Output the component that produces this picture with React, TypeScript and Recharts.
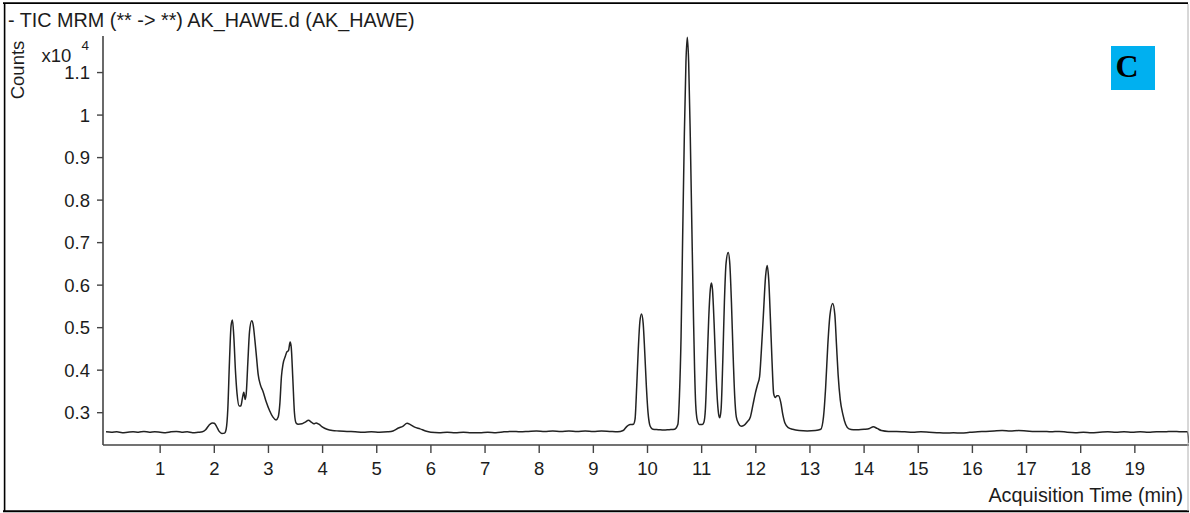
import React from "react";
import { LineChart, Line, XAxis, YAxis } from "recharts";

// Acquisition time (min)
const retentionTimes: number[] = [
  0.0, 0.1, 0.2, 0.3, 0.4, 0.5, 0.6, 0.7, 0.8, 0.9, 1.0, 1.1, 1.2, 1.3, 1.4, 1.5, 1.6, 1.7, 1.78,
  1.84, 1.9, 1.96, 2.0, 2.04, 2.09, 2.14, 2.19,
  2.22, 2.25, 2.28, 2.31, 2.335, 2.36, 2.39, 2.42, 2.46, 2.49, 2.52, 2.545, 2.57, 2.59, 2.62, 2.65, 2.69,
  2.72, 2.75, 2.78, 2.81, 2.85, 2.9, 2.96, 3.02, 3.08, 3.14, 3.18, 3.21, 3.24, 3.27, 3.31, 3.34, 3.37,
  3.4, 3.42, 3.45, 3.48, 3.51, 3.55, 3.62, 3.68, 3.74, 3.79, 3.84, 3.88, 3.93, 4.0, 4.08, 4.18, 4.3,
  4.45, 4.6, 4.75, 4.9, 5.05, 5.2, 5.3, 5.4, 5.48, 5.56, 5.62, 5.7, 5.8, 5.9, 6.0, 6.15, 6.3, 6.45,
  6.6, 6.75, 6.9, 7.05, 7.2, 7.35, 7.5, 7.65, 7.8, 7.95, 8.1, 8.25, 8.4, 8.55, 8.7, 8.85, 9.0, 9.15,
  9.3, 9.45, 9.55, 9.62, 9.68, 9.74,
  9.77, 9.8, 9.83, 9.86, 9.89, 9.92, 9.95, 9.98, 10.01, 10.04, 10.07, 10.1,
  10.2, 10.3, 10.4, 10.5,
  10.56, 10.59, 10.62, 10.65, 10.68, 10.71, 10.735, 10.76, 10.79, 10.82, 10.85, 10.87, 10.89, 10.92,
  10.96, 11.01, 11.04,
  11.07, 11.1, 11.13, 11.16, 11.18, 11.2, 11.23, 11.26, 11.29, 11.32, 11.335,
  11.36, 11.39, 11.42, 11.45, 11.49, 11.52, 11.55, 11.58, 11.61, 11.64, 11.68, 11.73, 11.78,
  11.84, 11.9, 11.95, 11.99, 12.03, 12.07, 12.1, 12.14, 12.18, 12.21, 12.24, 12.27, 12.3, 12.33,
  12.36, 12.39, 12.42, 12.46, 12.5, 12.54, 12.6, 12.68, 12.8, 12.95, 13.1, 13.2,
  13.25, 13.29, 13.33, 13.37, 13.42, 13.46, 13.49, 13.52, 13.56, 13.61, 13.66, 13.72, 13.8, 13.9,
  14.0, 14.1, 14.17, 14.24, 14.32, 14.45, 14.6, 14.75, 14.9, 15.05, 15.2, 15.35, 15.5, 15.65, 15.8,
  15.95, 16.1, 16.25, 16.4, 16.55, 16.7, 16.85, 17.0, 17.15, 17.3, 17.45, 17.6, 17.75, 17.9, 18.05,
  18.2, 18.35, 18.5, 18.65, 18.8, 18.95, 19.1, 19.25, 19.4, 19.55, 19.7, 19.85, 19.97, 20.0,
];

// Counts (x10^4)
const counts: number[] = [
  0.255, 0.254, 0.255, 0.253, 0.254, 0.255, 0.254, 0.256, 0.254, 0.255, 0.254, 0.253, 0.255, 0.256, 0.254, 0.255, 0.253, 0.254, 0.255,
  0.26, 0.27, 0.276, 0.275, 0.268, 0.256, 0.251, 0.252,
  0.262, 0.31, 0.42, 0.505, 0.518, 0.48, 0.4, 0.345, 0.316, 0.316, 0.335, 0.348, 0.331, 0.345, 0.42, 0.49, 0.516,
  0.505, 0.47, 0.43, 0.39, 0.366, 0.35, 0.325, 0.305, 0.29, 0.283, 0.29, 0.32, 0.385, 0.415, 0.432, 0.443, 0.446,
  0.466, 0.455, 0.38, 0.3, 0.276, 0.273, 0.274, 0.278, 0.282, 0.278, 0.274, 0.276, 0.273, 0.266, 0.261, 0.258, 0.257,
  0.256, 0.255, 0.254, 0.255, 0.254, 0.255, 0.257, 0.264, 0.268, 0.275, 0.272, 0.266, 0.262, 0.257, 0.254, 0.253, 0.254, 0.253,
  0.254, 0.253, 0.253, 0.254, 0.253, 0.255, 0.256, 0.255, 0.256, 0.257, 0.256, 0.257, 0.256, 0.257, 0.256, 0.257, 0.256, 0.257,
  0.256, 0.255, 0.258, 0.268, 0.272, 0.273,
  0.285, 0.36, 0.45, 0.515, 0.532, 0.51, 0.44, 0.36, 0.3, 0.272, 0.264, 0.261,
  0.26, 0.259, 0.26, 0.261,
  0.272, 0.34, 0.48, 0.72, 0.95, 1.125, 1.183, 1.125, 0.95, 0.73, 0.52, 0.4, 0.32, 0.282,
  0.272, 0.272, 0.277,
  0.31, 0.41, 0.52, 0.59, 0.605, 0.59, 0.51, 0.41, 0.33, 0.292, 0.288,
  0.31, 0.42, 0.56, 0.65, 0.677, 0.65, 0.56, 0.44, 0.34, 0.29, 0.275, 0.268, 0.27,
  0.278, 0.29, 0.32, 0.345, 0.365, 0.385, 0.44, 0.53, 0.62, 0.646, 0.61, 0.52, 0.42, 0.345,
  0.336, 0.34, 0.34, 0.325, 0.295, 0.275, 0.265, 0.261, 0.258, 0.257, 0.258, 0.261,
  0.29, 0.36, 0.46, 0.53, 0.557, 0.53, 0.46, 0.39, 0.33, 0.295, 0.272, 0.262, 0.26, 0.26,
  0.261, 0.263, 0.267, 0.263, 0.258, 0.256, 0.256, 0.255, 0.254, 0.255, 0.254, 0.253, 0.252, 0.253, 0.252,
  0.254, 0.255, 0.256, 0.257, 0.258, 0.257, 0.258, 0.257, 0.256, 0.256, 0.255, 0.256, 0.254, 0.253, 0.254,
  0.253, 0.254, 0.255, 0.254, 0.255, 0.254, 0.255, 0.254, 0.255, 0.255, 0.256, 0.255, 0.255, 0.228,
];

const xTicks: number[] = [1, 2, 3, 4, 5, 6, 7, 8, 9, 10, 11, 12, 13, 14, 15, 16, 17, 18, 19];
const yTicks: number[] = [0.3, 0.4, 0.5, 0.6, 0.7, 0.8, 0.9, 1, 1.1];
const xDomain: [number, number] = [0, 20];
const yDomain: [number, number] = [0.224, 1.186];

const titleText = "- TIC MRM (** -> **) AK_HAWE.d (AK_HAWE)";
const xAxisTitle = "Acquisition Time (min)";
const yAxisTitle = "Counts";
const panelLetter = "C";

const data = retentionTimes.map((t, i) => ({ t, v: counts[i] }));

const FONT = "'Liberation Sans', Arial, Helvetica, sans-serif";
const TEXT_COLOR = "#1c1c1c";

export default function App() {
  return (
    <div style={{ position: "absolute", left: 0, top: 0, width: 1190, height: 513, background: "#fff" }}>
      <LineChart
        width={1190}
        height={513}
        data={data}
        margin={{ top: 36, right: 1, bottom: 0, left: 0 }}
      >
        <XAxis
          dataKey="t"
          type="number"
          domain={xDomain}
          ticks={xTicks}
          allowDataOverflow
          height={68}
          padding={{ left: 3, right: 0 }}
          tickSize={8}
          tickMargin={9}
          axisLine={{ stroke: "#444", strokeWidth: 1.6 }}
          tickLine={{ stroke: "#444", strokeWidth: 1.4 }}
          tick={{ fill: TEXT_COLOR, fontSize: 18.5, fontFamily: FONT }}
          interval={0}
        />
        <YAxis
          type="number"
          domain={yDomain}
          ticks={yTicks}
          allowDataOverflow
          width={103}
          tickSize={6}
          tickMargin={7}
          axisLine={{ stroke: "#444", strokeWidth: 1.6 }}
          tickLine={{ stroke: "#444", strokeWidth: 1.4 }}
          tick={{ fill: TEXT_COLOR, fontSize: 18.5, fontFamily: FONT }}
          interval={0}
        />
        <Line
          type="monotone"
          dataKey="v"
          stroke="#222"
          strokeWidth={1.5}
          dot={false}
          activeDot={false}
          isAnimationActive={false}
        />
      </LineChart>
      <svg
        width={1190}
        height={513}
        style={{ position: "absolute", left: 0, top: 0, pointerEvents: "none" }}
      >
        {/* frame */}
        <line x1={3} y1={3.2} x2={1188} y2={3.2} stroke="#000" strokeWidth={1.8} />
        <line x1={4.6} y1={3} x2={4.6} y2={512} stroke="#000" strokeWidth={1.6} />
        <line x1={3} y1={511.3} x2={1189} y2={511.3} stroke="#000" strokeWidth={2} />
        <line x1={1188} y1={4} x2={1188} y2={511} stroke="#b0b0b0" strokeWidth={1} />
        {/* title */}
        <text x={8} y={27.3} fontFamily={FONT} fontSize={19.8} fill={TEXT_COLOR}>
          {titleText}
        </text>
        {/* y axis title and multiplier */}
        <text
          transform="rotate(-90)"
          x={-70}
          y={24}
          textAnchor="middle"
          fontFamily={FONT}
          fontSize={18.5}
          fill={TEXT_COLOR}
        >
          {yAxisTitle}
        </text>
        <text x={41.5} y={61.5} fontFamily={FONT} fontSize={18.5} fill={TEXT_COLOR}>
          x10
        </text>
        <text x={81.5} y={50} fontFamily={FONT} fontSize={13.5} fill={TEXT_COLOR}>
          4
        </text>
        {/* x axis title */}
        <text x={1183} y={501.7} textAnchor="end" fontFamily={FONT} fontSize={19.8} fill={TEXT_COLOR}>
          {xAxisTitle}
        </text>
        {/* panel letter */}
        <rect x={1111} y={46} width={44} height={44} fill="#00B0F0" />
        <text
          x={1115.5}
          y={77}
          fontFamily="'Liberation Serif', 'Times New Roman', serif"
          fontWeight="bold"
          fontSize={32}
          fill="#000"
        >
          {panelLetter}
        </text>
      </svg>
    </div>
  );
}
